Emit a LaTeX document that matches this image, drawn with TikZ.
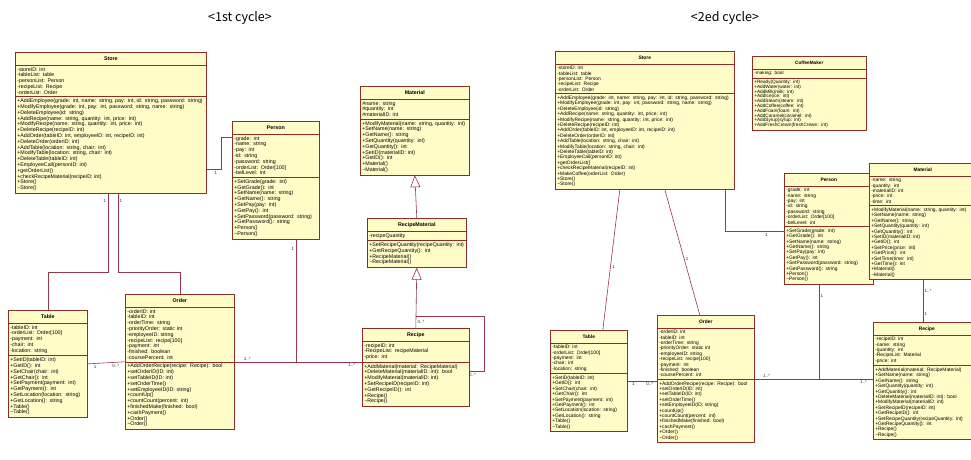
\documentclass[tikz,border=0pt]{standalone}
\usepackage{fontspec}
\setmainfont{Liberation Sans}
\newfontfamily\titlefont{Noto Sans CJK KR}
\usetikzlibrary{shapes.multipart,arrows.meta}

\definecolor{clsfill}{RGB}{255,252,200}
\definecolor{clsline}{RGB}{140,45,40}
\definecolor{assocline}{RGB}{150,55,75}
\newcommand{\clsname}[1]{\rule[-2.5pt]{0pt}{8pt}\hspace*{\fill}\textbf{#1}\hspace*{\fill}\null}

\tikzset{
  umlclass/.style={rectangle split, rectangle split parts=3, draw=clsline, fill=clsfill,
    line width=0.6pt, anchor=north west, align=left, inner xsep=2pt, inner ysep=2pt,
    font=\fontsize{5.3}{5.8}\selectfont},
  rclass/.style={umlclass, font=\fontsize{4.9}{5.4}\selectfont},
  assoc/.style={draw=assocline, line width=0.6pt},
  inherit/.style={assoc, -{Triangle[open, width=10pt, length=12pt]}},
  mult/.style={font=\fontsize{4.5}{5}\selectfont, text=black!80, inner sep=1.5pt},
}

\begin{document}
\begin{tikzpicture}[x=1pt, y=-1pt]
\useasboundingbox (0,0) rectangle (971,459);

\node (title1) at (240,18) {\titlefont\fontsize{12.5}{14}\selectfont <1st cycle>};
\node (title2) at (725,18) {\titlefont\fontsize{12.5}{14}\selectfont <2ed cycle>};

% 1st cycle
\node (store) [umlclass, text width=187pt] at (15,52) {\clsname{Store}
  \nodepart{second}-storeID: int\\-tableList: table\\-personList: Person\\-recipeList: Recipe\\-orderList: Order
  \nodepart{third}+AddEmployee(grade: int, name: string, pay: int, id: string, password: string)\\
  +ModifyEmployee(grade: int, pay: int, password: string, name: string)\\
  +DeleteEmployee(id: string)\\+AddRecipe(name: string, quantity: int, price: int)\\
  +ModifyRecipe(name: string, quantity: int, price: int)\\+DeleteRecipe(recipeID: int)\\
  +AddOrder(tableID: int, employeeID: int, recipeID: int)\\+DeleteOrder(orderID: int)\\
  +AddTable(location: string, chair: int)\\+ModifyTable(location: string, chair: int)\\
  +DeleteTable(tableID: int)\\+EmployeeCall(personID: int)\\+getOrderList()\\
  +checkRecipeMaterial(recipeID: int)\\+Store()\\\textasciitilde Store()};

\node (person) [umlclass, text width=83pt, minimum height=128pt] at (232,121) {\clsname{Person}
  \nodepart{second}-grade: int\\-name: string\\-pay: int\\-id: string\\-password: string\\-orderList: Order[100]\\-belLevel: int
  \nodepart{third}+SetGrade(grade: int)\\+GetGrade(): int\\+SetName(name: string)\\+GetName(): string\\
  +SetPay(pay: int)\\+GetPay(): int\\+SetPassword(password: string)\\+GetPassword(): string\\+Person()\\\textasciitilde Person()};

\node (material) [umlclass, text width=105pt, minimum height=114pt] at (360,86) {\clsname{Material}
  \nodepart{second}\#name: string\\\#quantity: int\\\#materialID: int
  \nodepart{third}+ModifyMaterial(name: string, quantity: int)\\+SetName(name: string)\\+GetName(): string\\
  +SetQuantity(quantity: int)\\+GetQuantity(): int\\+SetID(materialID: int)\\+GetID(): int\\+Material()\\\textasciitilde Material()};

\node (recmat) [umlclass, text width=95pt, minimum height=54pt] at (367,218) {\clsname{RecipeMaterial}
  \nodepart{second}-recipeQuantity
  \nodepart{third}+SetRecipeQuantity(recipeQuantity: int)\\+GetRecipeQuantity(): int\\+RecipeMaterial()\\\textasciitilde RecipeMaterial()};

\node (table) [umlclass, text width=75pt, minimum height=120pt] at (8,310) {\clsname{Table}
  \nodepart{second}-tableID: int\\-orderList: Order[100]\\-payment: int\\-chair: int\\-location: string
  \nodepart{third}+SetID(tableID: int)\\+GetID(): int\\+SetChair(chair: int)\\+GetChair(): int\\
  +SetPayment(payment: int)\\+GetPayment(): int\\+SetLocation(location: string)\\+GetLocation(): string\\+Table()\\\textasciitilde Table()};

\node (order) [umlclass, text width=105pt, minimum height=152pt] at (125,294) {\clsname{Order}
  \nodepart{second}-orderID: int\\-tableID: int\\-orderTime: string\\-priorityOrder: static int\\-employeeID: string\\
  -recipeList: recipe[100]\\-payment: int\\-finished: boolean\\-coursePercent: int
  \nodepart{third}+AddOrderRecipe(recipe: Recipe): bool\\+setOrderID(ID: int)\\+setTableID(ID: int)\\+setOrderTime()\\
  +setEmployeeID(ID: string)\\+countUp()\\+countCount(percent: int)\\+finishedMake(finished: bool)\\+cashPayment()\\+Order()\\\textasciitilde Order()};

\node (recipe) [umlclass, text width=103pt, minimum height=90pt] at (362,328) {\clsname{Recipe}
  \nodepart{second}-recipeID: int\\-RecipeList: recipeMaterial\\-price: int
  \nodepart{third}+AddMaterial(material: RecipeMaterial)\\+DeleteMaterial(materialID: int): bool\\+ModifyMaterial(materialID: int)\\
  +SetRecipeID(recipeID: int)\\+GetRecipeID(): int\\+Recipe()\\\textasciitilde Recipe()};

\draw[assoc] ([xshift=-3pt]store.south) -- ++(0,79) node[mult, pos=0.1, left] {1} -| (table.north);
\draw[assoc] ([xshift=7pt]store.south) -- ++(0,79) node[mult, pos=0.1, right] {1} -| (order.north);
\draw[assoc] ([yshift=-47pt]store.east) -- ++(15,0) node[mult, pos=0.6, below] {1} |- ([yshift=43pt]person.west);
\draw[assoc] ([xshift=20pt]person.south) -- ([xshift=20pt]person.south |- order.east) node[mult, pos=0.08, left] {1};
\draw[assoc] (order.east) -- (order.east -| recipe.west)
  node[mult, pos=0.1, above] {1..*} node[mult, pos=0.92, below] {1..*};
\draw[assoc] (table.east) -- (order.west)
  node[mult, pos=0.2, below] {1} node[mult, pos=0.75, below] {0..*};
\draw[inherit] (recmat.north) -- (material.south);
\draw[inherit] (recipe.north) -- (recmat.south) node[mult, pos=0.1, right] {0..*};
\draw[assoc] (recipe.north) ++(0,-12) -- ++(68,0) |- ([yshift=-4pt]recipe.east) node[mult, pos=0.9, below] {0..*};

% 2ed cycle
\node (rstore) [rclass, text width=175pt] at (555,51) {\clsname{Store}
  \nodepart{second}-storeID: int\\-tableList: table\\-personList: Person\\-recipeList: Recipe\\-orderList: Order
  \nodepart{third}+AddEmployee(grade: int, name: string, pay: int, id: string, password: string)\\
  +ModifyEmployee(grade: int, pay: int, password: string, name: string)\\
  +DeleteEmployee(id: string)\\+AddRecipe(name: string, quantity: int, price: int)\\
  +ModifyRecipe(name: string, quantity: int, price: int)\\+DeleteRecipe(recipeID: int)\\
  +AddOrder(tableID: int, employeeID: int, recipeID: int)\\+DeleteOrder(orderID: int)\\
  +AddTable(location: string, chair: int)\\+ModifyTable(location: string, chair: int)\\
  +DeleteTable(tableID: int)\\+EmployeeCall(personID: int)\\+getOrderList()\\
  +checkRecipeMaterial(recipeID: int)\\+MakeCoffee(orderList: Order)\\+Store()\\\textasciitilde Store()};

\node (coffee) [rclass, text width=110pt, font=\fontsize{4.7}{4.8}\selectfont] at (752,56) {\clsname{CoffeeMaker}
  \nodepart{second}-making: bool
  \nodepart{third}+Ready(Quantity: int)\\+AddWater(water: int)\\+AddMilk(milk: int)\\+AddIce(ice: int)\\+AddSteam(steam: int)\\
  +AddCoffee(coffee: int)\\+AddFoam(foam: int)\\+AddCaramel(caramel: int)\\+AddSyrup(syrup: int)\\+AddFreshCream(freshCream: int)};

\node (rperson) [rclass, text width=85pt, minimum height=155pt] at (784,173) {\clsname{Person}
  \nodepart{second}-grade: int\\-name: string\\-pay: int\\-id: string\\-password: string\\-orderList: Order[100]\\-belLevel: int
  \nodepart{third}+SetGrade(grade: int)\\+GetGrade(): int\\+SetName(name: string)\\+GetName(): string\\
  +SetPay(pay: int)\\+GetPay(): int\\+SetPassword(password: string)\\+GetPassword(): string\\+Person()\\\textasciitilde Person()};

\node (rmaterial) [rclass, text width=103pt, minimum height=127pt] at (869,163) {\clsname{Material}
  \nodepart{second}-name: string\\-quantity: int\\-materialID: int\\-price: int\\-time: int
  \nodepart{third}+ModifyMaterial(name: string, quantity: int)\\+SetName(name: string)\\+GetName(): string\\
  +SetQuantity(quantity: int)\\+GetQuantity(): int\\+SetID(materialID: int)\\+GetID(): int\\+SetPrice(price: int)\\
  +GetPrice(): int\\+SetTime(time: int)\\+GetTime(): int\\+Material()\\\textasciitilde Material()};

\node (rtable) [rclass, text width=73pt, minimum height=120pt] at (550,330) {\clsname{Table}
  \nodepart{second}-tableID: int\\-orderList: Order[100]\\-payment: int\\-chair: int\\-location: string
  \nodepart{third}+SetID(tableID: int)\\+GetID(): int\\+SetChair(chair: int)\\+GetChair(): int\\
  +SetPayment(payment: int)\\+GetPayment(): int\\+SetLocation(location: string)\\+GetLocation(): string\\+Table()\\\textasciitilde Table()};

\node (rorder) [rclass, text width=93pt, minimum height=137pt] at (657,315) {\clsname{Order}
  \nodepart{second}-orderID: int\\-tableID: int\\-orderTime: string\\-priorityOrder: static int\\-employeeID: string\\
  -recipeList: recipe[100]\\-payment: int\\-finished: boolean\\-coursePercent: int
  \nodepart{third}+AddOrderRecipe(recipe: Recipe): bool\\+setOrderID(ID: int)\\+setTableID(ID: int)\\+setOrderTime()\\
  +setEmployeeID(ID: string)\\+countUp()\\+countCount(percent: int)\\+finishedMake(finished: bool)\\+cashPayment()\\+Order()\\\textasciitilde Order()};

\node (rrecipe) [rclass, text width=103pt, minimum height=128pt] at (873,322) {\clsname{Recipe}
  \nodepart{second}-recipeID: int\\-name: string\\-quantity: int\\-RecipeList: Material\\-price: int
  \nodepart{third}+AddMaterial(material: RecipeMaterial)\\+SetName(name: string)\\+GetName(): string\\
  +SetQuantity(quantity: int)\\+GetQuantity(): int\\+DeleteMaterial(materialID: int): bool\\+ModifyMaterial(materialID: int)\\
  +SetRecipeID(recipeID: int)\\+GetRecipeID(): int\\+SetRecipeQuantity(recipeQuantity: int)\\+GetRecipeQuantity(): int\\
  +Recipe()\\\textasciitilde Recipe()};

\draw[assoc] ([xshift=-25pt]rstore.south) -- ([xshift=14pt]rtable.north) node[mult, pos=0.55, right] {1};
\draw[assoc] ([xshift=20pt]rstore.south) -- ([xshift=-6pt]rorder.north) node[mult, pos=0.55, right] {1};
\draw[assoc] ([xshift=80pt]rstore.south) |- ([yshift=-3pt]rperson.west) node[mult, pos=0.85, below] {1};
\draw[assoc] ([xshift=-10pt]rperson.south) -- ([xshift=-10pt]rperson.south |- rorder.east) node[mult, pos=0.12, right] {1};
\draw[assoc] (rorder.east) -- (rorder.east -| rrecipe.west)
  node[mult, pos=0.1, above] {1..*} node[mult, pos=0.92, below] {1..*};
\draw[assoc] (rtable.east) -- (rtable.east -| rorder.west)
  node[mult, pos=0.2, below] {1} node[mult, pos=0.75, below] {0..*};
\draw[assoc] (rmaterial.south) -- (rmaterial.south |- rrecipe.north)
  node[mult, pos=0.25, right] {1..*} node[mult, pos=0.8, right] {1};
\end{tikzpicture}
\end{document}
